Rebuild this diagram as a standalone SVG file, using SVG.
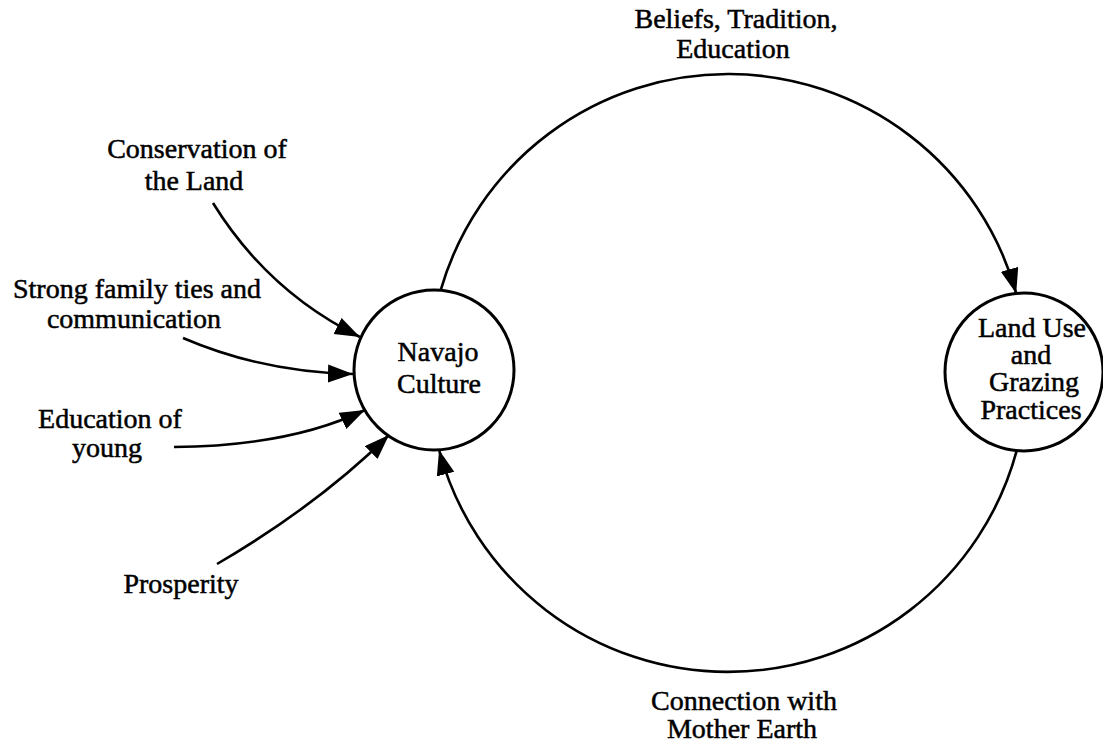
<svg xmlns="http://www.w3.org/2000/svg" width="1103" height="748" viewBox="0 0 1103 748">
  <style>
    .lbl { font-family: "Liberation Serif", "Times New Roman", serif; font-size: 28px; fill: #000; stroke: #000; stroke-width: 0.5; text-anchor: middle; }
    .node { fill: none; stroke: #000; stroke-width: 3; }
    .edge { fill: none; stroke: #000; stroke-width: 2.6; marker-end: url(#head); }
  </style>
  <defs>
    <marker id="head" markerUnits="userSpaceOnUse" markerWidth="28" markerHeight="20" refX="25" refY="9" orient="auto">
      <path d="M0,0 L25,9 L0,18 z" fill="#000"/>
    </marker>
  </defs>
  <rect width="1103" height="748" fill="#fff"/>

  <g id="connectors">
    <!-- main loop: Navajo Culture to Land Use over the top -->
    <path class="edge" d="M440.7,290.2 A299,299 0 0,1 1016.2,293.4"/>
    <!-- main loop: Land Use back to Navajo Culture along the bottom -->
    <path class="edge" d="M1016.7,450.7 A299,299 0 0,1 439.1,450"/>
    <!-- incoming influences -->
    <path class="edge" d="M213,203 Q268,292 360,337"/>
    <path class="edge" d="M183,338 Q262,372 353,374"/>
    <path class="edge" d="M174,447 Q290,446 365,410"/>
    <path class="edge" d="M217,564 Q318,505 389,435"/>
  </g>

  <g id="navajo-culture">
    <circle class="node" cx="434" cy="370" r="80"/>
    <text class="lbl" x="438" y="361">Navajo</text>
    <text class="lbl" x="439" y="393">Culture</text>
  </g>

  <g id="land-use">
    <circle class="node" cx="1024" cy="372" r="79"/>
    <text class="lbl" x="1032" y="337">Land Use</text>
    <text class="lbl" x="1031" y="364">and</text>
    <text class="lbl" x="1034" y="391">Grazing</text>
    <text class="lbl" x="1031" y="419">Practices</text>
  </g>

  <g id="beliefs-label">
    <text class="lbl" x="736" y="28">Beliefs, Tradition,</text>
    <text class="lbl" x="733" y="58">Education</text>
  </g>

  <g id="mother-earth-label">
    <text class="lbl" x="744" y="710">Connection with</text>
    <text class="lbl" x="742" y="738">Mother Earth</text>
  </g>

  <g id="conservation">
    <text class="lbl" x="197" y="158">Conservation of</text>
    <text class="lbl" x="194" y="190">the Land</text>
  </g>

  <g id="family-ties">
    <text class="lbl" x="137" y="298">Strong family ties and</text>
    <text class="lbl" x="134" y="328">communication</text>
  </g>

  <g id="education-young">
    <text class="lbl" x="110" y="428">Education of</text>
    <text class="lbl" x="107" y="457">young</text>
  </g>

  <g id="prosperity">
    <text class="lbl" x="181" y="593">Prosperity</text>
  </g>
</svg>
